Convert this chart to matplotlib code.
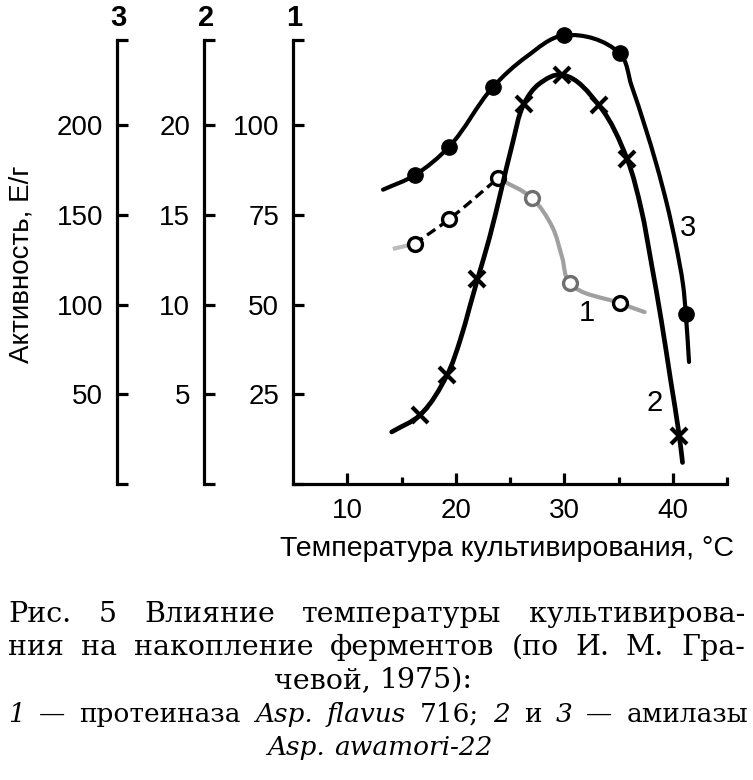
import matplotlib
matplotlib.use('Agg')
import numpy as np
import matplotlib.pyplot as plt
from matplotlib.path import Path
from matplotlib.patches import PathPatch

# ---------------- data ----------------
# Curve 1: proteinase (scale 1)
c1_x = [16.2, 19.4, 23.9, 27.0, 30.5, 35.1]
c1_y = [66.9, 73.8, 85.2, 79.7, 56.0, 50.4]
c1_lead_x = [14.2, 16.2]
c1_lead_y = [65.5, 66.9]
c1_dash_x = [16.2, 19.4, 23.9]
c1_dash_y = [66.9, 73.8, 85.2]
c1_tail_x = [23.9, 27.0, 28.9, 29.8, 30.5, 35.1, 37.4]
c1_tail_y = [85.2, 79.7, 71.6, 63.2, 56.0, 50.4, 47.9]

# Curve 2: amylase (scale 2)
c2_x = [16.7, 19.2, 22.0, 26.3, 29.8, 33.2, 35.8, 40.6]
c2_y = [3.84, 6.07, 11.4, 21.2, 22.8, 21.1, 18.1, 2.7]
c2_line_x = [14.1, 16.7, 19.2, 20.4, 21.3, 22.0, 23.1, 24.2, 25.2, 26.3, 27.7,
             29.8, 33.2, 35.8, 37.1, 38.0, 38.95, 39.8, 40.6, 40.9]
c2_line_y = [2.9, 3.84, 6.07, 8.0, 9.9, 11.4, 13.7, 16.4, 18.9, 21.2, 22.3,
             22.8, 21.1, 18.1, 15.3, 12.4, 9.1, 5.8, 2.7, 1.2]

# Curve 3: amylase (scale 3)
c3_x = [16.2, 19.4, 23.4, 30.0, 35.1, 41.2]
c3_y = [172, 188, 221, 250, 240, 95]
c3_line_x = [13.3, 16.2, 19.4, 23.4, 26.5, 30.0, 35.1, 36.2, 37.4, 38.5,
             39.5, 40.3, 40.95, 41.2, 41.5]
c3_line_y = [164, 172, 188, 221, 238, 250, 240, 222, 200, 178,
             155, 133, 111, 95, 68]

ticks1 = [0, 25, 50, 75, 100, 123.7]
labels1 = ['', '25', '50', '75', '100', '']
ticks2 = [0, 5, 10, 15, 20, 24.74]
labels2 = ['', '5', '10', '15', '20', '']
ticks3 = [0, 50, 100, 150, 200, 247.4]
labels3 = ['', '50', '100', '150', '200', '']
xticks_major = [10, 20, 30, 40]
xticks_minor = [15, 25, 35, 45]

# ---------------- figure ----------------
plt.rcParams['font.family'] = ['Liberation Sans', 'DejaVu Sans']
W, H = 753, 780
fig = plt.figure(figsize=(W / 100, H / 100), dpi=100)


def fx(x):
    return x / W


def fy(y):
    return 1 - y / H


ax1 = fig.add_axes([fx(293), fy(484), (727 - 293) / W, (484 - 40) / H])
ax1.set_xlim(5, 45)
ax1.set_ylim(0, ticks1[-1])
ax2 = ax1.twinx()
ax2.set_ylim(0, ticks2[-1])
ax3 = ax1.twinx()
ax3.set_ylim(0, ticks3[-1])

LW = 2.3
for s in ['top', 'right']:
    ax1.spines[s].set_visible(False)
ax1.spines['left'].set_linewidth(LW)
ax1.spines['bottom'].set_linewidth(LW)

for ax, off in [(ax2, 89), (ax3, 176)]:
    for s in ['top', 'right', 'bottom']:
        ax.spines[s].set_visible(False)
    ax.spines['left'].set_visible(True)
    ax.spines['left'].set_position(('outward', off * 0.72))
    ax.spines['left'].set_linewidth(LW)
    ax.yaxis.set_ticks_position('left')
    ax.yaxis.set_label_position('left')

for ax, t, l in [(ax1, ticks1, labels1), (ax2, ticks2, labels2), (ax3, ticks3, labels3)]:
    ax.set_yticks(t)
    ax.set_yticklabels(l)
    ax.tick_params(axis='y', direction='in', length=8, width=LW, labelsize=20, pad=10)

ax1.set_xticks(xticks_major)
ax1.set_xticks(xticks_minor, minor=True)
ax1.tick_params(axis='x', which='major', direction='in', length=8, width=LW, labelsize=20, pad=10)
ax1.tick_params(axis='x', which='minor', direction='in', length=5, width=LW)


def smooth(ax, xs, ys, **kw):
    T = ax.transData
    P = T.transform(np.column_stack([xs, ys]))
    n = len(P)
    tan = []
    for i in range(n):
        if i == 0:
            d = P[1] - P[0]
        elif i == n - 1:
            d = P[-1] - P[-2]
        else:
            a = P[i] - P[i - 1]
            b = P[i + 1] - P[i]
            d = a / np.linalg.norm(a) + b / np.linalg.norm(b)
        tan.append(d / np.linalg.norm(d))
    verts = [P[0]]
    codes = [Path.MOVETO]
    for i in range(n - 1):
        L = np.linalg.norm(P[i + 1] - P[i])
        verts += [P[i] + tan[i] * L / 3, P[i + 1] - tan[i + 1] * L / 3, P[i + 1]]
        codes += [Path.CURVE4] * 3
    V = T.inverted().transform(np.array(verts))
    patch = PathPatch(Path(V, codes), fill=False, clip_on=False, **kw)
    ax.add_patch(patch)


# curve 3
smooth(ax3, c3_line_x, c3_line_y, lw=3.0, edgecolor='black', capstyle='round')
ax3.plot(c3_x, c3_y, 'o', ms=11, color='black', clip_on=False)

# curve 2
smooth(ax2, c2_line_x, c2_line_y, lw=3.4, edgecolor='black', capstyle='round')
ax2.plot(c2_x, c2_y, 'x', ms=12, mew=3, color='black', clip_on=False)

# curve 1
smooth(ax1, c1_lead_x, c1_lead_y, lw=3, edgecolor='#bbbbbb')
smooth(ax1, c1_dash_x, c1_dash_y, lw=2.4, edgecolor='black', linestyle=(0, (3, 1.6)))
smooth(ax1, c1_tail_x, c1_tail_y, lw=3, edgecolor='#a0a0a0', capstyle='round')
edge_cols = ['black', 'black', 'black', '#6f6f6f', '#6f6f6f', 'black']
for x, y, ec in zip(c1_x, c1_y, edge_cols):
    ax1.plot([x], [y], 'o', ms=10, mfc='white', mec=ec, mew=2.4, clip_on=False, zorder=5)

# axis numbers and labels
for x, t in [(118, '3'), (206, '2'), (294, '1')]:
    fig.text(fx(x), fy(18), t, ha='center', va='center', fontsize=21, fontweight='bold')
fig.text(fx(22), fy(264), 'Активность, Е/г', rotation=90, ha='center', va='center', fontsize=20)
fig.text(fx(507), fy(549), 'Температура культивирования, °C', ha='center', va='center', fontsize=20.5)

for x, y, t in [(688, 228, '3'), (655, 403, '2'), (587, 313, '1')]:
    fig.text(fx(x), fy(y), t, ha='center', va='center', fontsize=21)

# caption
renderer = fig.canvas.get_renderer()
SERIF = ['DejaVu Serif']


def place(parts, ybase, size):
    objs = []
    for txt, st in parts:
        t = fig.text(0, fy(ybase), txt, ha='left', va='baseline', fontsize=size,
                     family=SERIF, style=st)
        objs.append((t, t.get_window_extent(renderer).width))
    return objs


def justify(parts, ybase, x0, x1, size):
    objs = place(parts, ybase, size)
    total = sum(w for _, w in objs)
    gap = (x1 - x0 - total) / (len(objs) - 1)
    x = x0
    for t, w in objs:
        t.set_x(fx(x))
        x += w + gap


def centered(parts, ybase, xc, size, gap=9):
    objs = place(parts, ybase, size)
    total = sum(w for _, w in objs) + gap * (len(objs) - 1)
    x = xc - total / 2
    for t, w in objs:
        t.set_x(fx(x))
        x += w + gap


N, I = 'normal', 'italic'
justify([('Рис.', N), ('5', N), ('Влияние', N), ('температуры', N), ('культивирова-', N)],
        622, 8, 745, 20.5)
justify([('ния', N), ('на', N), ('накопление', N), ('ферментов', N), ('(по', N), ('И.', N),
         ('М.', N), ('Гра-', N)], 655, 8, 745, 20.5)
centered([('чевой,', N), ('1975):', N)], 688, 373, 20.5)
justify([('1', I), ('—', N), ('протеиназа', N), ('Asp.', I), ('flavus', I), ('716;', N),
         ('2', I), ('и', N), ('3', I), ('—', N), ('амилазы', N)], 722, 8, 748, 19)
centered([('Asp.', I), ('awamori-22', I)], 755, 380, 19)

fig.savefig('out.png', dpi=100)
